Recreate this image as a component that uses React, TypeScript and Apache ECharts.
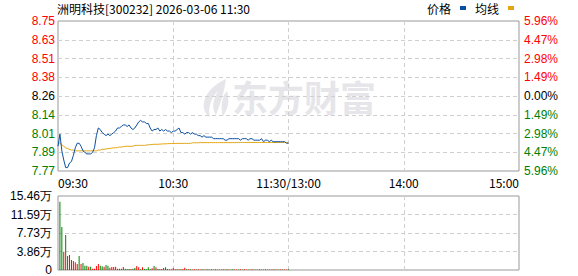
import React, { useEffect, useRef } from "react";
import * as echarts from "echarts";

const title = "洲明科技[300232] 2026-03-06 11:30";
const prevClose = 8.26;
const maxPct = 0.0596;

const priceTicks = ["7.77", "7.89", "8.01", "8.14", "8.26", "8.38", "8.51", "8.63", "8.75"];
const pctTicks = ["5.96%", "4.47%", "2.98%", "1.49%", "0.00%", "1.49%", "2.98%", "4.47%", "5.96%"];
const volTicks = ["0", "3.86万", "7.73万", "11.59万", "15.46万"];
const timeTicks = ["09:30", "10:30", "11:30/13:00", "14:00", "15:00"];

const prices = [
  7.93, 8.01, 7.90, 7.84, 7.79, 7.79, 7.82, 7.83, 7.87, 7.92,
  7.95, 7.95, 7.93, 7.90, 7.89, 7.88, 7.88, 7.88, 7.89, 7.92,
  8.00, 8.05, 8.04, 8.02, 8.01, 8.00, 8.01, 8.00, 8.01, 8.02,
  8.03, 8.05, 8.05, 8.06, 8.07, 8.07, 8.06, 8.07, 8.05, 8.04,
  8.05, 8.07, 8.09, 8.10, 8.09, 8.09, 8.08, 8.08, 8.05, 8.03,
  8.04, 8.04, 8.05, 8.03, 8.04, 8.03, 8.04, 8.03, 8.03, 8.02,
  8.03, 8.03, 8.04, 8.05, 8.02, 8.02, 8.01, 8.02, 8.02, 8.01,
  8.02, 8.01, 8.01, 8.00, 8.00, 7.99, 8.00, 7.99, 7.99, 7.99,
  7.99, 7.98, 7.98, 7.98, 7.98, 7.98, 7.98, 7.97, 7.97, 7.98,
  7.98, 7.98, 7.98, 7.98, 7.98, 7.97, 7.98, 7.98, 7.98, 7.97,
  7.98, 7.98, 7.97, 7.97, 7.97, 7.97, 7.98, 7.96, 7.97, 7.97,
  7.96, 7.97, 7.96, 7.96, 7.96, 7.96, 7.96, 7.96, 7.96, 7.95,
  7.95,
];

const avgPrices = [
  7.96, 7.95, 7.94, 7.93, 7.92, 7.915, 7.91, 7.905, 7.905, 7.90,
  7.90, 7.90, 7.90, 7.90, 7.90, 7.90, 7.90, 7.90, 7.90, 7.90,
  7.90, 7.905, 7.905, 7.91, 7.91, 7.912, 7.915, 7.915, 7.918, 7.92,
  7.92, 7.922, 7.925, 7.925, 7.927, 7.93, 7.93, 7.93, 7.93, 7.93,
  7.936, 7.936, 7.936, 7.936, 7.936, 7.936, 7.938, 7.94, 7.94, 7.942,
  7.943, 7.943, 7.943, 7.944, 7.945, 7.946, 7.946, 7.947, 7.948, 7.948,
  7.948, 7.949, 7.949, 7.949, 7.949, 7.949, 7.949, 7.949, 7.949, 7.949,
  7.953, 7.953, 7.953, 7.953, 7.954, 7.954, 7.954, 7.954, 7.954, 7.954,
  7.954, 7.954, 7.954, 7.954, 7.954, 7.954, 7.954, 7.954, 7.954, 7.954,
  7.954, 7.954, 7.954, 7.954, 7.954, 7.955, 7.955, 7.955, 7.955, 7.955,
  7.955, 7.955, 7.955, 7.955, 7.955, 7.955, 7.955, 7.955, 7.955, 7.955,
  7.955, 7.955, 7.955, 7.955, 7.955, 7.955, 7.955, 7.955, 7.955, 7.955,
  7.955,
];

// volume in 万 shares, minutes 1..120
const volumes = [
  14.28, 8.98, 3.83, 7.31, 2.92, 3.13, 2.09, 1.88, 1.60, 1.25,
  2.92, 1.25, 1.46, 0.90, 0.90, 0.70, 0.70, 0.28, 0.28, 0.84,
  1.25, 0.90, 0.77, 0.70, 1.04, 0.90, 0.49, 0.63, 0.63, 0.70,
  0.28, 0.28, 0.28, 0.63, 0.28, 0.21, 0.21, 0.21, 0.28, 0.42,
  0.84, 0.56, 0.14, 0.56, 0.21, 0.14, 0.56, 0.21, 0.35, 0.84,
  0.56, 0.21, 0.21, 0.21, 0.42, 0.56, 0.21, 0.14, 0.14, 0.42,
  0.14, 0.14, 0.14, 0.14, 0.21, 0.49, 0.14, 0.14, 0.18, 0.12,
  0.14, 0.12, 0.15, 0.12, 0.14, 0.12, 0.13, 0.15, 0.12, 0.14,
  0.12, 0.14, 0.12, 0.13, 0.12, 0.14, 0.12, 0.15, 0.12, 0.13,
  0.14, 0.12, 0.13, 0.12, 0.14, 0.12, 0.15, 0.12, 0.13, 0.12,
  0.14, 0.12, 0.13, 0.12, 0.14, 0.12, 0.13, 0.15, 0.12, 0.13,
  0.12, 0.14, 0.12, 0.13, 0.12, 0.14, 0.12, 0.13, 0.12, 0.14,
];

// 1 = up (red), -1 = down (green)
const volDir = [
  -1, -1, 1, -1, 1, 1, -1, 1, 1, 1,
  -1, 1, -1, -1, -1, 1, -1, 1, 1, 1,
  1, -1, -1, 1, -1, -1, 1, 1, 1, 1,
  -1, -1, -1, 1, -1, -1, -1, 1, -1, -1,
  1, 1, -1, 1, -1, -1, -1, -1, 1, -1,
  1, -1, 1, 1, -1, -1, 1, 1, 1, 1,
  1, -1, 1, -1, 1, 1, -1, 1, -1, 1,
  1, -1, 1, 1, -1, 1, -1, -1, 1, -1,
  1, 1, -1, 1, -1, 1, 1, -1, 1, -1,
  -1, 1, 1, -1, 1, -1, 1, 1, -1, 1,
  1, -1, 1, -1, -1, 1, 1, -1, 1, -1,
  1, 1, -1, 1, -1, 1, -1, 1, 1, -1,
];

const RED = "#ff0000";
const GREEN = "#008000";
const BLUE = "#0b4fa0";
const GOLD = "#e2a514";
const NUM_FONT = "Arial, 'Liberation Sans', sans-serif";
const CJK_FONT = "'Noto Sans CJK SC', sans-serif";

const logoPath =
  "M26 0 C12 6 2 18 4 30 C5 34 8 37 10 38 C8 30 10 20 18 12 C12 22 12 30 16 36 C20 26 24 14 26 0 Z M24 16 C21 24 21 31 23 37 C28 30 30 22 27 12 Z";

let registered = false;

export default function App() {
  const ref = useRef<HTMLDivElement>(null);
  useEffect(() => {
    if (!ref.current) return;
    if (!registered) {
      echarts.graphic.registerShape("logo", echarts.graphic.extendPath(logoPath, {}));
      registered = true;
    }
    const chart = echarts.init(ref.current, null, { renderer: "svg" });
    const labelColor = (_v: any, i: number) => (i < 4 ? GREEN : i === 4 ? "#000" : RED);
    const dashed = { show: true, lineStyle: { color: "#d0d0d0", type: [4, 3] as any, width: 1 }, showMinLine: false, showMaxLine: false };
    chart.setOption({
      animation: false,
      backgroundColor: "#fff",
      title: {
        text: title,
        left: 57,
        top: 2,
        padding: 0,
        textStyle: { fontSize: 12, fontWeight: "normal", color: "#000", fontFamily: CJK_FONT },
      },
      legend: {
        data: ["价格", "均线"],
        right: 64,
        top: 2,
        padding: 0,
        align: "right",
        icon: "rect",
        itemWidth: 6,
        itemHeight: 4,
        itemGap: 9,
        textStyle: { fontSize: 12, color: "#000", fontFamily: CJK_FONT, padding: [0, 4, 0, 0] },
      },
      graphic: [
        {
          type: "logo",
          x: 200,
          y: 79,
          scaleX: 1.0,
          scaleY: 1.0,
          z: -10,
          style: { fill: "#e6e6ea" },
        },
        {
          type: "text",
          x: 232,
          y: 78,
          z: -10,
          style: {
            text: "东方财富",
            fill: "#e6e6ea",
            font: "bold 36px 'Noto Sans CJK SC'",
          },
        },
      ],
      grid: [
        { left: 58, top: 21, width: 461, height: 150, show: true, borderColor: "#999", borderWidth: 1, backgroundColor: "transparent" },
        { left: 58, top: 196, width: 461, height: 74, show: true, borderColor: "#999", borderWidth: 1, backgroundColor: "transparent" },
      ],
      xAxis: [
        {
          type: "value",
          gridIndex: 0,
          min: 0,
          max: 240,
          interval: 60,
          axisLine: { show: false },
          axisTick: { show: false },
          splitLine: dashed,
          axisLabel: {
            formatter: (_v: number, i: number) => timeTicks[i],
            fontSize: 12,
            color: "#000",
            fontFamily: CJK_FONT,
            margin: 5,
            alignMinLabel: "left",
            alignMaxLabel: "right",
          },
        },
        {
          type: "value",
          gridIndex: 1,
          min: 0,
          max: 240,
          interval: 60,
          axisLine: { show: false },
          axisTick: { show: false },
          splitLine: dashed,
          axisLabel: { show: false },
        },
      ],
      yAxis: [
        {
          type: "category",
          gridIndex: 0,
          data: priceTicks,
          boundaryGap: false,
          axisLine: { show: false },
          axisTick: { show: false },
          splitLine: dashed,
          axisLabel: { interval: 0, margin: 3, fontSize: 12, fontFamily: NUM_FONT, color: labelColor },
        },
        {
          type: "category",
          gridIndex: 0,
          position: "right",
          data: pctTicks,
          boundaryGap: false,
          axisLine: { show: false },
          axisTick: { show: false },
          splitLine: { show: false },
          axisLabel: { interval: 0, margin: 5, fontSize: 12, fontFamily: NUM_FONT, color: labelColor },
        },
        {
          type: "value",
          gridIndex: 0,
          show: false,
          min: prevClose * (1 - maxPct),
          max: prevClose * (1 + maxPct),
          splitLine: { show: false },
        },
        {
          type: "value",
          gridIndex: 1,
          min: 0,
          max: 15.46,
          interval: 3.865,
          axisLine: { show: false },
          axisTick: { show: false },
          splitLine: dashed,
          axisLabel: {
            formatter: (_v: number, i: number) => volTicks[i],
            margin: 6,
            fontSize: 12,
            fontFamily: NUM_FONT,
            color: "#000",
          },
        },
      ],
      series: [
        {
          name: "价格",
          type: "line",
          xAxisIndex: 0,
          yAxisIndex: 2,
          data: prices.map((p, i) => [i, p]),
          symbol: "none",
          lineStyle: { color: BLUE, width: 1 },
          itemStyle: { color: BLUE },
          z: 3,
        },
        {
          name: "均线",
          type: "line",
          xAxisIndex: 0,
          yAxisIndex: 2,
          data: avgPrices.map((p, i) => [i, p]),
          symbol: "none",
          lineStyle: { color: GOLD, width: 1 },
          itemStyle: { color: GOLD },
          z: 2,
        },
        {
          name: "成交量",
          type: "bar",
          xAxisIndex: 1,
          yAxisIndex: 3,
          barWidth: 1,
          data: volumes.map((v, i) => ({
            value: [i + 1, v],
            itemStyle: { color: volDir[i] > 0 ? RED : GREEN },
          })),
        },
      ],
    });
    return () => chart.dispose();
  }, []);
  return (
    <div
      ref={ref}
      style={{ position: "fixed", left: 0, top: 0, width: 578, height: 276, background: "#fff" }}
    />
  );
}
